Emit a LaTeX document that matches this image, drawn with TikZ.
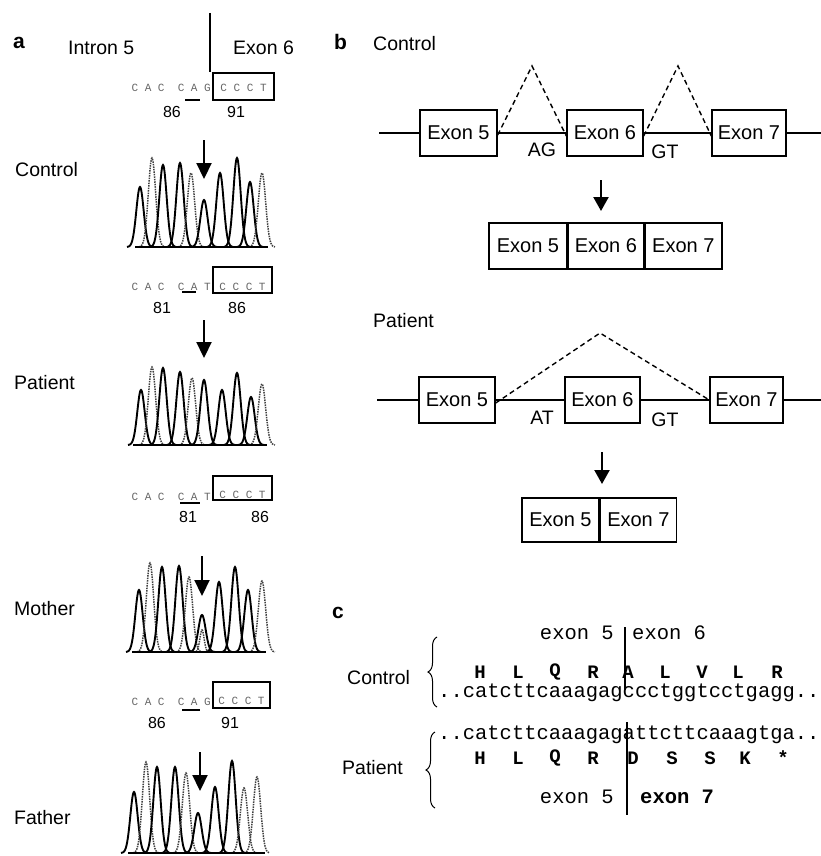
\documentclass[tikz,border=0pt]{standalone}
\usepackage{fontspec}
\setmainfont{Liberation Sans}
\newfontfamily\seqfont{Liberation Mono}
\usetikzlibrary{arrows.meta,decorations.pathreplacing}
\frenchspacing
\newcommand\chpk[4][pk]{\draw[#1] plot[domain=#2-13:#2+13,samples=53,smooth] (\x,{#4-(#4-#3)*exp(-((\x-#2)/5.2)^2)});}
\begin{document}
\begin{tikzpicture}[x=1pt,y=-1pt,
  lbl/.style={font=\fontsize{19.5}{22}\selectfont, inner sep=0},
  panel/.style={font=\fontsize{21}{24}\selectfont\bfseries, inner sep=0},
  exonbox/.style={draw, line width=1.4pt, minimum height=46pt, inner sep=0, font=\fontsize{20}{22}\selectfont},
  gene/.style={line width=1.8pt},
  splice/.style={line width=1.4pt, dash pattern=on 5pt off 3.5pt},
  bigarrow/.style={line width=2.2pt, -{Triangle[width=15pt,length=16pt]}},
  smarrow/.style={line width=2.2pt, -{Triangle[width=15pt,length=14pt]}},
  num/.style={font=\fontsize{16}{18}\selectfont, inner sep=0},
  faint/.style={font=\seqfont\fontsize{11}{13}\selectfont, text=black!60, inner sep=0},
  seqbox/.style={draw, line width=1.2pt, inner sep=0},
  uline/.style={line width=1.2pt},
  seq/.style={font=\seqfont\fontsize{20.5}{24}\selectfont, inner sep=0, anchor=west},
  aa/.style={font=\seqfont\bfseries\fontsize{19}{22}\selectfont, inner sep=0},
  pk/.style={line width=1.9pt},
  pkd/.style={line width=1.5pt, densely dotted, black!75},
  baseln/.style={line width=2.2pt},
  vline/.style={line width=1.5pt}]
\useasboundingbox (0,0) rectangle (821,856);

% ---------------- panel a ----------------
\node[panel, anchor=west] (pa) at (13,43) {a};
\node[lbl, anchor=west] (intron) at (68,48) {Intron 5};
\node[lbl, anchor=west] (exon6a) at (233,48) {Exon 6};
\draw[vline] (210,13) -- (210,72);

\node[lbl, anchor=west] (lctrl) at (15,170) {Control};
\node[lbl, anchor=west] (lpat) at (14,383) {Patient};
\node[lbl, anchor=west] (lmot) at (14,609) {Mother};
\node[lbl, anchor=west] (lfat) at (14,818) {Father};

% sequence group 1
\node[seqbox, minimum width=61pt, minimum height=27pt] (bx1) at (243.5,86.5) {};
\node[faint, anchor=east] (l1) at (211,88) {C~A~C~~C~A~G};
\node[faint] (r1) at (243.5,88) {C~C~C~T};
\draw[uline] (185,100) -- (200,100);
\node[num] (n1a) at (172,112) {86};
\node[num] (n1b) at (236,112) {91};

% control chromatogram
\coordinate (ca1) at (204,140); \coordinate (ca2) at (204,179);
\draw[bigarrow] (ca1) -- (ca2);
\chpk{140}{187}{247}
\chpk[pkd]{152}{158}{247}
\chpk{163}{165}{247}
\chpk{180}{163}{247}
\chpk[pkd]{191}{173}{247}
\chpk{204}{200}{247}
\chpk{220}{173}{247}
\chpk{237}{158}{247}
\chpk{250}{182}{247}
\chpk[pkd]{262}{173}{247}
\draw[baseln] (135,247) -- (268,247);

% sequence group 2
\node[seqbox, minimum width=59pt, minimum height=26pt] (bx2) at (242.5,280) {};
\node[faint, anchor=east] (l2) at (211,287) {C~A~C~~C~A~T};
\node[faint] (r2) at (242.5,287) {C~C~C~T};
\draw[uline] (182,292) -- (196,292);
\node[num] (n2a) at (162,308) {81};
\node[num] (n2b) at (237,308) {86};

% patient chromatogram
\coordinate (pa1) at (204,320); \coordinate (pa2) at (204,358);
\draw[bigarrow] (pa1) -- (pa2);
\chpk{141}{390}{445}
\chpk[pkd]{152}{367}{445}
\chpk{163}{368}{445}
\chpk{180}{372}{445}
\chpk[pkd]{192}{378}{445}
\chpk{204}{380}{445}
\chpk{222}{390}{445}
\chpk{237}{373}{445}
\chpk{251}{397}{445}
\chpk[pkd]{262}{384}{445}
\draw[baseln] (133,445) -- (267,445);

% sequence group 3
\node[seqbox, minimum width=59pt, minimum height=24pt] (bx3) at (242.5,488) {};
\node[faint, anchor=east] (l3) at (211,497) {C~A~C~~C~A~T};
\node[faint] (r3) at (242.5,495) {C~C~C~T};
\draw[uline] (180,503) -- (200,503);
\node[num] (n3a) at (188,517) {81};
\node[num] (n3b) at (260,517) {86};

% mother chromatogram
\coordinate (ma1) at (202,556); \coordinate (ma2) at (202,596);
\draw[bigarrow] (ma1) -- (ma2);
\chpk{139}{590}{652}
\chpk[pkd]{150}{563}{652}
\chpk{162}{567}{652}
\chpk{179}{566}{652}
\chpk[pkd]{189}{577}{652}
\chpk{202}{615}{652}
\draw[pkd] plot[domain=196:208,samples=25,smooth] (\x,{652-22*exp(-((\x-202)/3)^2)});
\chpk{219}{582}{652}
\chpk{235}{567}{652}
\chpk{248}{590}{652}
\chpk[pkd]{262}{581}{652}
\draw[baseln] (132,652) -- (266,652);

% sequence group 4
\node[seqbox, minimum width=57pt, minimum height=26pt] (bx4) at (241.5,695) {};
\node[faint, anchor=east] (l4) at (211,702) {C~A~C~~C~A~G};
\node[faint] (r4) at (241.5,701) {C~C~C~T};
\draw[uline] (182,710) -- (200,710);
\node[num] (n4a) at (157,723) {86};
\node[num] (n4b) at (230,723) {91};

% father chromatogram
\coordinate (fa1) at (200,752); \coordinate (fa2) at (200,791);
\draw[bigarrow] (fa1) -- (fa2);
\chpk{134}{792}{853}
\chpk[pkd]{146}{762}{853}
\chpk{157}{767}{853}
\chpk{175}{767}{853}
\chpk[pkd]{186}{773}{853}
\chpk{198}{813}{853}
\chpk{215}{787}{853}
\chpk{232}{761}{853}
\chpk[pkd]{244}{788}{853}
\chpk[pkd]{257}{777}{853}
\draw[baseln] (128,853) -- (265,853);

% ---------------- panel b ----------------
\node[panel, anchor=west] (pb) at (334,42) {b};
\node[lbl, anchor=west] (bctrl) at (373,44) {Control};

\coordinate (cL) at (379,133); \coordinate (cR) at (821,133);
\node[exonbox, minimum width=77pt] (c5) at (458.5,133) {Exon 5};
\node[exonbox, minimum width=76pt] (c6) at (605,133) {Exon 6};
\node[exonbox, minimum width=74pt] (c7) at (749,133) {Exon 7};
\draw[gene] (cL) -- (c5.west);
\draw[gene] (c5.east) -- (c6.west);
\draw[gene] (c6.east) -- (c7.west);
\draw[gene] (c7.east) -- (cR);
\coordinate (cap1) at (532,66); \coordinate (cap2) at (678,66);
\draw[splice] ([yshift=-2pt]c5.east) -- (cap1) -- ([yshift=-3pt]c6.west);
\draw[splice] ([yshift=-3pt]c6.east) -- (cap2) -- ([yshift=-3pt]c7.west);
\node[lbl] (ag) at (542,150) {AG};
\node[lbl] (gt1) at (665,152) {GT};
\coordinate (car1) at (601,180); \coordinate (car2) at (601,211);
\draw[smarrow] (car1) -- (car2);
\node[exonbox, minimum width=78pt] (b5) at (528,246) {Exon 5};
\node[exonbox, minimum width=75pt, anchor=west] (b6) at (b5.east) {Exon 6};
\node[exonbox, minimum width=77pt, anchor=west] (b7) at (b6.east) {Exon 7};

\node[lbl, anchor=west] (bpat) at (373,321) {Patient};
\coordinate (pL) at (377,400); \coordinate (pR) at (821,400);
\node[exonbox, minimum width=76pt] (p5) at (457,400) {Exon 5};
\node[exonbox, minimum width=75pt] (p6) at (602.5,400) {Exon 6};
\node[exonbox, minimum width=73pt] (p7) at (746.5,400) {Exon 7};
\draw[gene] (pL) -- (p5.west);
\draw[gene] (p5.east) -- (p6.west);
\draw[gene] (p6.east) -- (p7.west);
\draw[gene] (p7.east) -- (pR);
\coordinate (pap) at (600,333);
\draw[splice] ([yshift=-3pt]p5.east) -- (pap) -- (p7.west);
\node[lbl] (at) at (542,418) {AT};
\node[lbl] (gt2) at (665,420) {GT};
\coordinate (par1) at (602,452); \coordinate (par2) at (602,484);
\draw[smarrow] (par1) -- (par2);
\node[exonbox, minimum width=77pt, minimum height=44pt] (q5) at (560.5,520) {Exon 5};
\node[exonbox, minimum width=76pt, minimum height=44pt, anchor=west] (q7) at (q5.east) {Exon 7};

% ---------------- panel c ----------------
\node[panel, anchor=west] (pc) at (332,613) {c};
\node[lbl, anchor=west] (cctrl) at (347,678) {Control};
\node[lbl, anchor=west] (cpat) at (342,768) {Patient};
\coordinate (cb1) at (437,707); \coordinate (cb2) at (437,637);
\draw[line width=1pt, decorate, decoration={brace, amplitude=9pt}] (cb1) -- (cb2);
\coordinate (pb1) at (435,808); \coordinate (pb2) at (435,732);
\draw[line width=1pt, decorate, decoration={brace, amplitude=9pt}] (pb1) -- (pb2);

\node[seq, anchor=east] (ce5) at (614,633) {exon 5};
\node[seq] (ce6) at (632,633) {exon 6};
\draw[vline] (625,627) -- (625,690);
\foreach \xx/\aa [count=\i] in {480/H,518/L,555/Q,593/R,628/A,665/L,702/V,738/L,777/R}
  \node[aa] (caa\i) at (\xx,672) {\aa};
\node[seq] (cseq) at (438,693) {..catcttcaaagagccctggtcctgagg..};

\node[seq] (pseq) at (438,735) {..catcttcaaagagattcttcaaagtga..};
\foreach \xx/\aa [count=\i] in {480/H,518/L,555/Q,593/R,633/D,672/S,710/S,745/K,783/*}
  \node[aa] (paa\i) at (\xx,758) {\aa};
\draw[vline] (627,722) -- (627,815);
\node[seq, anchor=east] (pe5) at (614,797) {exon 5};
\node[seq, font=\seqfont\bfseries\fontsize{20.5}{24}\selectfont] (pe7) at (640,797) {exon 7};
\end{tikzpicture}
\end{document}
